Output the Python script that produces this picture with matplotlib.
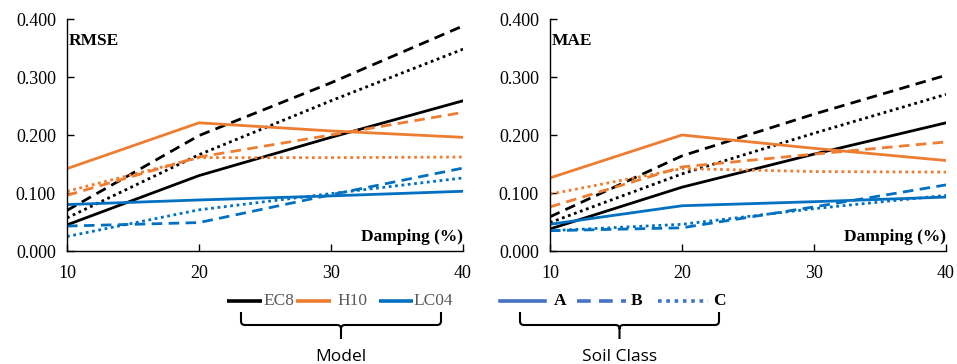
import matplotlib.pyplot as plt
from matplotlib.path import Path
from matplotlib.patches import PathPatch

plt.rcParams['font.family'] = ['Liberation Serif', 'DejaVu Serif']

# Data
damping = [10, 20, 30, 40]
models = ['EC8', 'H10', 'LC04']
soil_classes = ['A', 'B', 'C']

rmse_ec8_a = [0.045, 0.130, 0.196, 0.259]
rmse_ec8_b = [0.070, 0.199, 0.290, 0.388]
rmse_ec8_c = [0.057, 0.166, 0.259, 0.348]
rmse_h10_a = [0.142, 0.221, 0.207, 0.196]
rmse_h10_b = [0.096, 0.162, 0.200, 0.239]
rmse_h10_c = [0.103, 0.161, 0.161, 0.162]
rmse_lc04_a = [0.080, 0.088, 0.095, 0.103]
rmse_lc04_b = [0.043, 0.049, 0.097, 0.143]
rmse_lc04_c = [0.025, 0.071, 0.099, 0.126]

mae_ec8_a = [0.038, 0.110, 0.167, 0.221]
mae_ec8_b = [0.059, 0.164, 0.236, 0.303]
mae_ec8_c = [0.049, 0.133, 0.203, 0.270]
mae_h10_a = [0.126, 0.200, 0.177, 0.156]
mae_h10_b = [0.076, 0.145, 0.167, 0.188]
mae_h10_c = [0.098, 0.142, 0.137, 0.136]
mae_lc04_a = [0.046, 0.078, 0.085, 0.093]
mae_lc04_b = [0.035, 0.040, 0.076, 0.114]
mae_lc04_c = [0.035, 0.046, 0.073, 0.096]

rmse = {'EC8': [rmse_ec8_a, rmse_ec8_b, rmse_ec8_c],
        'H10': [rmse_h10_a, rmse_h10_b, rmse_h10_c],
        'LC04': [rmse_lc04_a, rmse_lc04_b, rmse_lc04_c]}
mae = {'EC8': [mae_ec8_a, mae_ec8_b, mae_ec8_c],
       'H10': [mae_h10_a, mae_h10_b, mae_h10_c],
       'LC04': [mae_lc04_a, mae_lc04_b, mae_lc04_c]}

# Styles
model_colors = {'EC8': '#000000', 'H10': '#ED7D31', 'LC04': '#0070C0'}
class_styles = {'A': '-', 'B': (0, (3.8, 2.3)), 'C': (0, (1, 1.3))}
sans = 'Open Sans'

W, H = 957, 364
fig = plt.figure(figsize=(W / 100, H / 100), dpi=100, facecolor='white')


def panel(left_px, data, title):
    ax = fig.add_axes([left_px / W, (H - 251) / H, 396 / W, 232 / H])
    for m in models:
        for sc, vals in zip(soil_classes, data[m]):
            ax.plot(damping, vals, color=model_colors[m], linestyle=class_styles[sc],
                    linewidth=2.0, dash_capstyle='butt')
    ax.set_xlim(10, 40)
    ax.set_ylim(0, 0.4)
    ax.set_xticks([10, 20, 30, 40])
    ax.set_yticks([0, 0.1, 0.2, 0.3, 0.4])
    ax.set_yticklabels(['%.3f' % v for v in [0, 0.1, 0.2, 0.3, 0.4]])
    ax.spines['top'].set_visible(False)
    ax.spines['right'].set_visible(False)
    for s in ['left', 'bottom']:
        ax.spines[s].set_linewidth(1.0)
    ax.tick_params(direction='in', length=5, width=1.0, labelsize=13)
    ax.tick_params(axis='x', pad=10)
    ax.tick_params(axis='y', pad=8)
    ax.text(0.005, 0.905, title, transform=ax.transAxes, fontsize=12.5,
            fontweight='bold', ha='left', va='center')
    ax.text(1.0, 0.06, 'Damping (%)', transform=ax.transAxes, fontsize=12.5,
            fontweight='bold', ha='right', va='center')
    return ax


panel(67, rmse, 'RMSE')
panel(550, mae, 'MAE')

# Overlay in pixel coordinates for the legend and braces
ov = fig.add_axes([0, 0, 1, 1], facecolor='none')
ov.set_xlim(0, W)
ov.set_ylim(H, 0)
ov.axis('off')

ly = 301
# Model legend
model_items = [('EC8', 227, 262, 263), ('H10', 296, 331, 337), ('LC04', 379, 413, 413)]
for name, x0, x1, tx in model_items:
    ov.plot([x0, x1], [ly, ly], color=model_colors[name], linewidth=2.6,
            solid_capstyle='butt')
    ov.text(tx, ly, name, fontsize=12.5, color='#595959',
            ha='left', va='center')

# Soil class legend
soil_color = '#4472C4'
class_items = [('A', 500, 545, 560), ('B', 577, 626, 637), ('C', 658, 708, 719)]
for name, x0, x1, tx in class_items:
    ov.plot([x0, x1], [ly, ly], color=soil_color, linestyle=class_styles[name],
            linewidth=2.6, dash_capstyle='butt')
    ov.text(tx, ly, name, fontsize=12.5, color='black', fontweight='bold',
            ha='center', va='center')


def brace(x0, x1, ytop=312, ymid=325, ytip=339, r=4):
    xc = (x0 + x1) / 2
    verts = [(x0, ytop), (x0, ymid - r), (x0, ymid), (x0 + r, ymid),
             (xc - r, ymid), (xc, ymid), (xc, ymid + r), (xc, ytip),
             (xc, ymid + r), (xc, ymid), (xc + r, ymid),
             (x1 - r, ymid), (x1, ymid), (x1, ymid - r), (x1, ytop)]
    codes = [Path.MOVETO, Path.LINETO, Path.CURVE3, Path.CURVE3,
             Path.LINETO, Path.CURVE3, Path.CURVE3, Path.LINETO,
             Path.MOVETO, Path.CURVE3, Path.CURVE3,
             Path.LINETO, Path.CURVE3, Path.CURVE3, Path.LINETO]
    ov.add_patch(PathPatch(Path(verts, codes), facecolor='none',
                           edgecolor='black', linewidth=1.5))
    return xc


xm = brace(241, 441)
ov.text(xm, 357, 'Model', fontsize=12.5, fontfamily=sans, ha='center', va='center')
xs = brace(520, 719)
ov.text(xs, 357, 'Soil Class', fontsize=12.5, fontfamily=sans, ha='center', va='center')

fig.savefig('out.png', dpi=100, facecolor='white')
